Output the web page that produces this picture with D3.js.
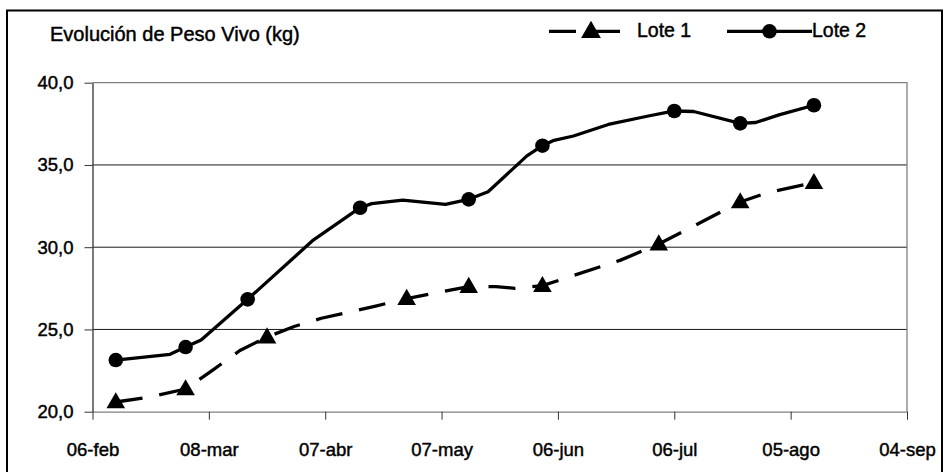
<!DOCTYPE html>
<html>
<head>
<meta charset="utf-8">
<script src="https://cdn.jsdelivr.net/npm/d3@7"></script>
<style>
  html, body { margin: 0; padding: 0; background: #fff; }
  svg { display: block; }
  text { font-family: "Liberation Sans", Arial, Helvetica, sans-serif; fill: #000; stroke: #000; stroke-width: 0.45px; }
</style>
</head>
<body>
<svg id="chart" width="949" height="472"></svg>
<script>
// ---- Data ----
const chartTitle = "Evolución de Peso Vivo (kg)";
const seriesNames = ["Lote 1", "Lote 2"];

const lote1Dates  = ["2007-02-12","2007-02-21","2007-03-02","2007-03-09","2007-03-16","2007-03-23","2007-03-30","2007-04-06","2007-04-13","2007-04-20","2007-04-28","2007-05-14","2007-05-21","2007-05-26","2007-06-02","2007-06-22","2007-07-02","2007-07-23","2007-07-30","2007-08-11"];
const lote1Values = [20.59, 20.9, 21.38, 22.53, 23.72, 24.54, 25.18, 25.68, 26.05, 26.42, 26.88, 27.61, 27.60, 27.50, 27.66, 29.2, 30.19, 32.75, 33.31, 33.92];
const lote1Marked = [true, false, true, false, false, true, false, false, false, false, true, true, false, false, true, false, true, true, false, true];

const lote2Dates  = ["2007-02-12","2007-02-26","2007-03-02","2007-03-06","2007-03-18","2007-04-04","2007-04-16","2007-04-19","2007-04-27","2007-05-08","2007-05-14","2007-05-19","2007-05-29","2007-06-02","2007-06-05","2007-06-10","2007-06-19","2007-06-29","2007-07-06","2007-07-11","2007-07-23","2007-07-27","2007-08-02","2007-08-11"];
const lote2Values = [23.14, 23.49, 23.93, 24.36, 26.83, 30.45, 32.40, 32.65, 32.86, 32.60, 32.91, 33.37, 35.55, 36.17, 36.50, 36.76, 37.46, 37.96, 38.28, 38.25, 37.53, 37.58, 38.04, 38.63];
const lote2Marked = [true, false, true, false, true, false, true, false, false, false, true, false, false, true, false, false, false, false, true, false, true, false, false, true];

const xTickDates  = ["2007-02-06","2007-03-08","2007-04-07","2007-05-07","2007-06-06","2007-07-06","2007-08-05","2007-09-04"];
const xTickLabels = ["06-feb","08-mar","07-abr","07-may","06-jun","06-jul","05-ago","04-sep"];
const yTickValues = [20, 25, 30, 35, 40];
const yTickLabels = ["20,0","25,0","30,0","35,0","40,0"];

// ---- Layout ----
const W = 949, H = 472;
const plot = { left: 92.5, right: 907, top: 82.7, bottom: 411.7 };
const parse = d3.timeParse("%Y-%m-%d");

const svg = d3.select("#chart");

// outer border
svg.append("rect")
  .attr("x", 7).attr("y", 10.5)
  .attr("width", 935).attr("height", 470)
  .attr("fill", "none").attr("stroke", "#000").attr("stroke-width", 2);

const x = d3.scaleTime()
  .domain([parse(xTickDates[0]), parse(xTickDates[xTickDates.length - 1])])
  .range([plot.left, plot.right]);
const y = d3.scaleLinear()
  .domain([20, 40])
  .range([plot.bottom, plot.top]);

// gridlines
svg.append("g").selectAll("line")
  .data(yTickValues.filter(v => v > 20 && v < 40))
  .join("line")
  .attr("x1", plot.left).attr("x2", plot.right)
  .attr("y1", d => y(d)).attr("y2", d => y(d))
  .attr("stroke", "#1a1a1a").attr("stroke-width", 1);

// plot area border (top/right gray)
svg.append("path")
  .attr("d", `M${plot.left},${y(40)}H${plot.right}V${plot.bottom}`)
  .attr("fill", "none").attr("stroke", "#808080").attr("stroke-width", 1.3);

// x axis
const xAxis = d3.axisBottom(x)
  .tickValues(xTickDates.map(parse))
  .tickFormat((d, i) => xTickLabels[i])
  .tickSizeInner(8).tickSizeOuter(0).tickPadding(23);
const gx = svg.append("g").attr("transform", `translate(0,${plot.bottom})`).call(xAxis);
gx.select(".domain").attr("stroke", "#808080").attr("stroke-width", 1.3);
gx.selectAll(".tick line").attr("stroke", "#333").attr("stroke-width", 1);
gx.selectAll(".tick text")
  .attr("font-size", "18.5px").attr("font-family", "Liberation Sans, Arial, sans-serif").attr("fill", "#000");

// y axis
const yAxis = d3.axisLeft(y)
  .tickValues(yTickValues)
  .tickFormat((d, i) => yTickLabels[i])
  .tickSizeInner(8).tickSizeOuter(0).tickPadding(11);
const gy = svg.append("g").attr("transform", `translate(${plot.left},0)`).call(yAxis);
gy.select(".domain").attr("stroke", "#333").attr("stroke-width", 1.3);
gy.selectAll(".tick line").attr("stroke", "#333").attr("stroke-width", 1);
gy.selectAll(".tick text")
  .attr("font-size", "18.5px").attr("font-family", "Liberation Sans, Arial, sans-serif").attr("fill", "#000");

// series
function makeSeries(dates, values, marked) {
  return dates.map((d, i) => ({ date: parse(d), value: values[i], marked: marked[i] }));
}
const s1 = makeSeries(lote1Dates, lote1Values, lote1Marked);
const s2 = makeSeries(lote2Dates, lote2Values, lote2Marked);

const line = d3.line().x(d => x(d.date)).y(d => y(d.value));

svg.append("path").datum(s1).attr("d", line)
  .attr("fill", "none").attr("stroke", "#000").attr("stroke-width", 3.3)
  .attr("stroke-dasharray", "27,17").attr("stroke-linejoin", "round");
svg.append("path").datum(s2).attr("d", line)
  .attr("fill", "none").attr("stroke", "#000").attr("stroke-width", 3.3)
  .attr("stroke-linejoin", "round");

const tri = d3.symbol().type(d3.symbolTriangle).size(150);
svg.append("g").selectAll("path")
  .data(s1.filter(d => d.marked))
  .join("path")
  .attr("d", tri)
  .attr("transform", d => `translate(${x(d.date)},${y(d.value) + 1})`)
  .attr("fill", "#000");

svg.append("g").selectAll("circle")
  .data(s2.filter(d => d.marked))
  .join("circle")
  .attr("cx", d => x(d.date)).attr("cy", d => y(d.value))
  .attr("r", 7.3).attr("fill", "#000");

// title
svg.append("text")
  .attr("x", 50).attr("y", 41)
  .attr("font-size", "20px")
  .text(chartTitle);

// legend
const legY = 31.3;
svg.append("line").attr("x1", 549).attr("x2", 620).attr("y1", legY).attr("y2", legY)
  .attr("stroke", "#000").attr("stroke-width", 3.3).attr("stroke-dasharray", "27,17");
svg.append("path").attr("d", d3.symbol().type(d3.symbolTriangle).size(170))
  .attr("transform", `translate(591,${legY + 1})`).attr("fill", "#000");
svg.append("text").attr("x", 637).attr("y", 36.5).attr("font-size", "19.5px").text(seriesNames[0]);

svg.append("line").attr("x1", 727).attr("x2", 812).attr("y1", legY).attr("y2", legY)
  .attr("stroke", "#000").attr("stroke-width", 3.3);
svg.append("circle").attr("cx", 769.5).attr("cy", legY).attr("r", 7.3).attr("fill", "#000");
svg.append("text").attr("x", 812).attr("y", 36.5).attr("font-size", "19.5px").text(seriesNames[1]);
</script>
</body>
</html>
